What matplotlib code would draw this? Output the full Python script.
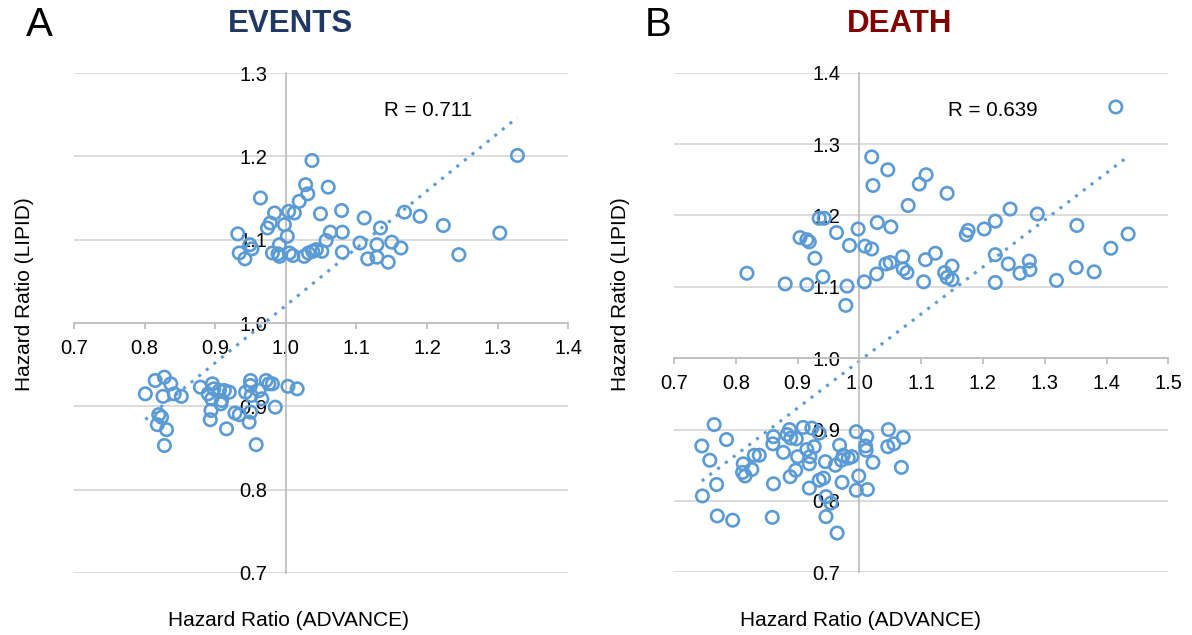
import numpy as np
import matplotlib
matplotlib.use("Agg")
import matplotlib.pyplot as plt

plt.rcParams['font.family'] = ['Liberation Sans', 'DejaVu Sans']

# panel A - events
events_x = [0.932, 0.934, 0.942, 0.949, 0.952, 0.964, 0.974, 0.978, 0.984, 0.981,
            0.989, 0.991, 0.991, 0.998, 1.002, 1.004, 1.005, 1.010, 1.012, 1.019,
            1.028, 1.031, 1.037, 1.026, 1.032, 1.038, 1.043, 1.051, 1.049, 1.057,
            1.060, 1.063, 1.079, 1.080, 1.080, 1.105, 1.111, 1.116, 1.129, 1.129,
            1.134, 1.145, 1.150, 1.163, 1.168, 1.190, 1.223, 1.245, 1.303, 1.328,
            0.801, 0.815, 0.828, 0.837, 0.826, 0.842, 0.852, 0.820, 0.824, 0.818,
            0.831, 0.828, 0.879, 0.896, 0.890, 0.898, 0.895, 0.906, 0.913, 0.920,
            0.909, 0.908, 0.894, 0.893, 0.916, 0.928, 0.934, 0.943, 0.950, 0.950,
            0.951, 0.950, 0.948, 0.958, 0.962, 0.966, 0.972, 0.976, 0.981, 0.985,
            1.003, 1.016]
events_y = [1.107, 1.084, 1.077, 1.094, 1.089, 1.150, 1.114, 1.120, 1.132, 1.084,
            1.083, 1.094, 1.080, 1.118, 1.104, 1.134, 1.084, 1.081, 1.132, 1.146,
            1.166, 1.155, 1.195, 1.080, 1.084, 1.086, 1.088, 1.086, 1.131, 1.099,
            1.163, 1.109, 1.135, 1.109, 1.085, 1.096, 1.126, 1.077, 1.094, 1.079,
            1.114, 1.073, 1.097, 1.090, 1.133, 1.128, 1.117, 1.082, 1.108, 1.201,
            0.915, 0.931, 0.935, 0.927, 0.912, 0.915, 0.912, 0.890, 0.887, 0.878,
            0.872, 0.853, 0.923, 0.927, 0.915, 0.921, 0.909, 0.919, 0.919, 0.917,
            0.907, 0.903, 0.895, 0.884, 0.873, 0.892, 0.890, 0.917, 0.931, 0.925,
            0.913, 0.893, 0.881, 0.854, 0.919, 0.909, 0.931, 0.927, 0.927, 0.899,
            0.924, 0.921]

# panel B - death
death_x = [0.818, 0.880, 0.915, 0.904, 0.915, 0.919, 0.928, 0.941, 0.935, 0.943,
           0.963, 0.980, 0.978, 0.984, 0.998, 1.008, 1.009, 1.020, 1.020, 1.022,
           1.028, 1.029, 1.043, 1.050, 1.046, 1.051, 1.070, 1.071, 1.077, 1.079,
           1.097, 1.108, 1.104, 1.107, 1.123, 1.138, 1.142, 1.150, 1.150, 1.142,
           1.173, 1.176, 1.202, 1.220, 1.220, 1.220, 1.241, 1.244, 1.260, 1.275,
           1.276, 1.288, 1.319, 1.351, 1.352, 1.380, 1.407, 1.415, 1.435,
           0.745, 0.765, 0.758, 0.785, 0.746, 0.769, 0.770, 0.795, 0.812, 0.811,
           0.815, 0.826, 0.830, 0.838, 0.861, 0.860, 0.861, 0.859, 0.877, 0.883,
           0.887, 0.889, 0.898, 0.900, 0.897, 0.888, 0.909, 0.923, 0.935, 0.915,
           0.927, 0.920, 0.919, 0.919, 0.935, 0.942, 0.945, 0.946, 0.946, 0.954,
           0.964, 0.961, 0.968, 0.972, 0.971, 0.974, 0.982, 0.988, 0.995, 0.999,
           0.995, 1.012, 1.010, 1.011, 1.013, 1.022, 1.047, 1.046, 1.056, 1.071,
           1.068]
death_y = [1.119, 1.104, 1.103, 1.169, 1.166, 1.163, 1.140, 1.114, 1.196, 1.196,
           1.176, 1.101, 1.074, 1.158, 1.181, 1.107, 1.157, 1.153, 1.282, 1.242,
           1.118, 1.190, 1.132, 1.134, 1.264, 1.184, 1.142, 1.125, 1.120, 1.214,
           1.244, 1.257, 1.107, 1.138, 1.147, 1.120, 1.113, 1.129, 1.110, 1.231,
           1.173, 1.179, 1.181, 1.192, 1.145, 1.106, 1.132, 1.209, 1.119, 1.136,
           1.124, 1.202, 1.109, 1.127, 1.186, 1.121, 1.154, 1.352, 1.174,
           0.877, 0.907, 0.857, 0.886, 0.807, 0.823, 0.779, 0.773, 0.852, 0.840,
           0.835, 0.844, 0.864, 0.864, 0.890, 0.880, 0.824, 0.777, 0.868, 0.893,
           0.900, 0.888, 0.887, 0.862, 0.843, 0.834, 0.903, 0.902, 0.895, 0.872,
           0.876, 0.862, 0.852, 0.818, 0.829, 0.832, 0.855, 0.806, 0.778, 0.797,
           0.755, 0.850, 0.878, 0.826, 0.857, 0.864, 0.860, 0.862, 0.897, 0.835,
           0.815, 0.890, 0.877, 0.871, 0.816, 0.854, 0.900, 0.876, 0.880, 0.889,
           0.847]

# linear trend lines (slope, intercept)
events_trend = (0.688, 0.333)
death_trend = (0.659, 0.337)

blue = '#5b9bd5'
W, H = 1192, 635
fig = plt.figure(figsize=(W / 100, H / 100), dpi=100)


def panel(rect, xs, ys, trend, xlim, ylim, xticks, yticks, rtext, rpos):
    ax = fig.add_axes(rect)
    ax.set_xlim(*xlim)
    ax.set_ylim(*ylim)
    ax.set_xticks(xticks)
    ax.set_yticks(yticks)
    ax.set_xticklabels(['%.1f' % t for t in xticks])
    ax.set_yticklabels(['%.1f' % t for t in yticks])
    for s in ['top', 'right']:
        ax.spines[s].set_visible(False)
    ax.spines['left'].set_position(('data', 1.0))
    ax.spines['bottom'].set_position(('data', 1.0))
    ax.spines['left'].set_color('#bfbfbf')
    ax.spines['bottom'].set_color('#bfbfbf')
    ax.spines['left'].set_linewidth(1.3)
    ax.spines['bottom'].set_linewidth(1.3)
    ax.yaxis.grid(True, color='#d9d9d9', lw=1.3)
    ax.set_axisbelow(True)
    ax.tick_params(axis='y', length=0, pad=13.5, labelsize=14.5)
    ax.tick_params(axis='x', length=4, width=1.3, color='#bfbfbf', direction='out',
                   pad=7.5, labelsize=14.5)
    ax.patch.set_visible(False)
    xs = np.array(xs)
    slope, icpt = trend
    xl = np.array([xs.min(), xs.max()])
    ax.plot(xl, slope * xl + icpt, color=blue, lw=2.2, ls=(0, (1, 2.2)), zorder=2)
    ax.scatter(xs, ys, s=80, facecolors='none', edgecolors=blue, linewidths=1.9, zorder=3)
    ax.text(rpos[0], rpos[1], rtext, fontsize=14.8, ha='left', va='center')
    return ax


panel([74 / W, 1 - 573 / H, 494.3 / W, 500 / H], events_x, events_y, events_trend,
      (0.7, 1.4), (0.7, 1.3), np.arange(0.7, 1.41, 0.1), np.arange(0.7, 1.31, 0.1),
      'R = 0.711', (1.139, 1.255))
panel([674 / W, 1 - 572.3 / H, 494.3 / W, 499.6 / H], death_x, death_y, death_trend,
      (0.7, 1.5), (0.7, 1.4), np.arange(0.7, 1.51, 0.1), np.arange(0.7, 1.41, 0.1),
      'R = 0.639', (1.1435, 1.347))

fig.text(39.5 / W, 1 - 25 / H, 'A', fontsize=29, ha='center', va='center')
fig.text(658 / W, 1 - 25 / H, 'B', fontsize=29, ha='center', va='center')
fig.text(291 / W, 1 - 24 / H, 'EVENTS', fontsize=22.5, fontweight='bold', color='#203864',
         ha='center', va='center')
fig.text(900 / W, 1 - 24 / H, 'DEATH', fontsize=22.5, fontweight='bold', color='#800000',
         ha='center', va='center')
fig.text(288 / W, 1 - 620 / H, 'Hazard Ratio (ADVANCE)', fontsize=15, ha='center', va='center')
fig.text(861 / W, 1 - 620 / H, 'Hazard Ratio (ADVANCE)', fontsize=15, ha='center', va='center')
fig.text(25 / W, 1 - 294 / H, 'Hazard Ratio (LIPID)', fontsize=15, rotation=90,
         ha='center', va='center')
fig.text(620 / W, 1 - 294 / H, 'Hazard Ratio (LIPID)', fontsize=15, rotation=90,
         ha='center', va='center')

plt.savefig('out.png', dpi=100)
